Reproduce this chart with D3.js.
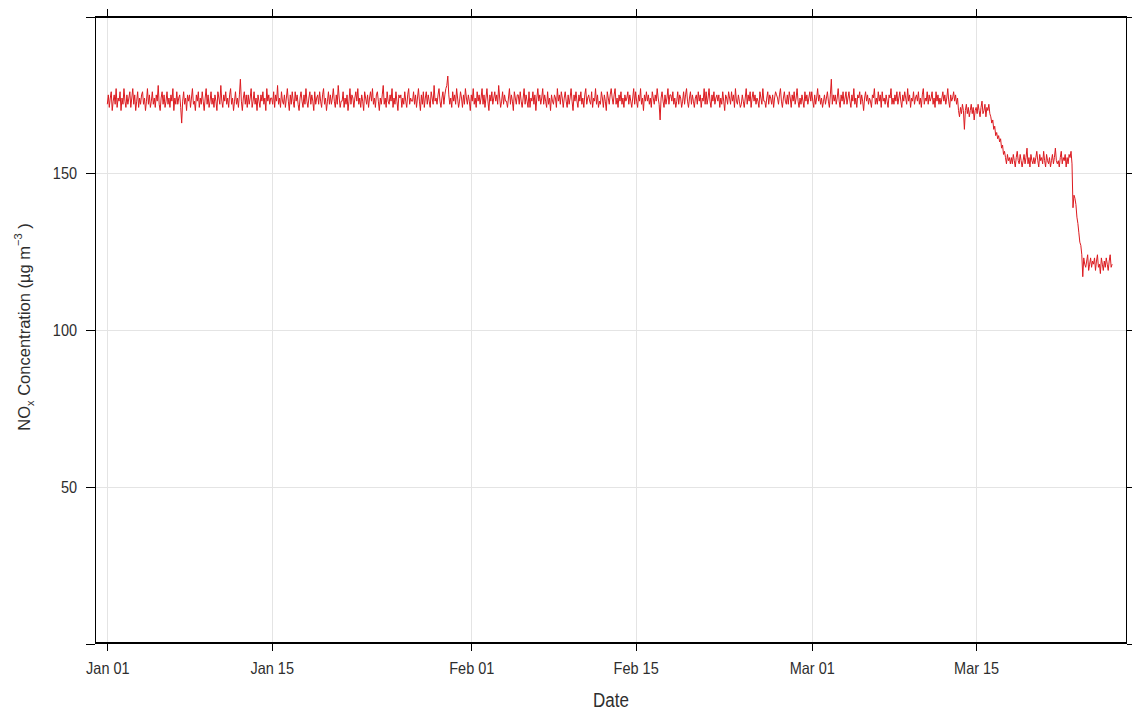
<!DOCTYPE html>
<html>
<head>
<meta charset="utf-8">
<script src="https://cdn.jsdelivr.net/npm/d3@7"></script>
<style>
  body { margin: 0; background: #fff; }
  svg { display: block; }
  text { font-family: "Liberation Sans", Arial, sans-serif; }
  .stretch { transform-box: fill-box; transform-origin: center; transform: scaleY(1.15); }
</style>
</head>
<body>
<svg id="chart" width="1132" height="711"></svg>
<script>
// NOx concentration, 2-hourly readings starting 2020-01-01 00:00 UTC (one row per day)
const seriesStart = "2020-01-01T00:00:00Z";
const stepHours = 2;

const janValues = [
  172,175,171,174,176,170,173,175,172,177,171,174,
  173,176,170,174,172,177,173,171,175,172,174,176,
  171,174,177,172,175,170,173,176,171,174,172,175,
  176,172,174,170,173,177,172,175,171,173,176,172,
  174,171,175,173,178,172,170,174,176,172,175,171,
  173,176,172,174,171,175,173,177,170,174,172,176,
  172,174,175,171,166,173,176,172,174,170,175,173,
  175,171,174,177,172,173,170,175,173,176,171,174,
  172,176,173,170,174,177,172,175,171,173,176,172,
  174,171,175,173,170,176,174,172,178,173,171,175,
  173,176,172,174,171,175,177,172,174,170,173,176,
  172,174,171,175,180,173,170,174,176,172,175,171,
  175,172,174,177,171,173,176,172,174,170,175,173,
  171,175,173,176,172,174,170,177,173,175,172,174,
  174,172,176,171,175,173,178,172,174,171,176,173,
  172,175,171,174,177,173,170,175,172,176,173,171,
  176,173,175,172,170,174,176,173,171,175,172,177,
  173,171,174,176,172,175,173,170,176,172,174,175,
  172,176,173,171,175,177,172,174,170,173,176,172,
  175,172,174,177,173,171,175,172,178,174,171,173,
  173,176,171,174,172,175,170,173,177,172,175,174,
  171,174,176,173,177,172,174,171,175,173,170,176,
  174,172,175,171,174,176,173,177,172,174,171,175,
  176,173,170,174,172,175,178,172,174,171,176,173,
  172,175,173,177,171,174,172,176,173,170,175,174,
  175,171,174,172,176,173,171,175,177,172,174,173,
  173,176,172,175,171,174,177,173,170,175,172,176,
  171,174,176,172,175,173,171,176,174,172,178,173,
  174,172,175,177,173,171,174,176,172,175,177,178,
  181,175,172,174,171,176,173,175,172,177,174,171,
  173,176,174,171,175,172,177,174,172,175,173,170
];

const febValues = [
  175,173,177,172,174,171,176,173,175,172,174,177,
  172,175,171,174,177,173,170,175,173,176,172,174,
  176,173,175,172,178,174,171,173,176,172,175,173,
  173,171,174,177,172,175,173,170,176,174,172,175,
  175,172,176,173,171,174,177,172,175,173,171,176,
  171,174,173,176,172,175,170,174,177,173,175,172,
  174,177,172,175,173,171,176,172,174,170,175,173,
  172,175,174,171,177,173,175,172,176,174,171,174,
  176,173,171,175,172,174,177,173,170,175,173,176,
  173,171,175,173,176,172,174,171,175,177,172,174,
  175,173,172,176,171,174,173,177,172,175,171,173,
  172,176,174,171,175,173,170,176,174,172,175,177,
  174,172,175,177,172,174,171,175,173,176,172,174,
  171,175,173,174,176,172,175,173,171,174,177,172,
  176,173,171,175,173,177,172,174,170,175,173,176,
  173,175,172,174,171,176,174,172,175,173,177,174,
  172,167,174,176,173,171,175,172,174,177,172,175,
  175,173,176,172,174,171,173,176,172,175,174,171,
  173,176,172,175,177,173,171,174,176,172,175,173,
  171,174,175,172,176,173,175,171,174,173,177,172,
  176,172,174,177,173,171,175,173,176,172,174,175,
  173,175,171,174,172,176,173,170,175,174,172,176,
  174,172,176,173,175,171,177,173,172,175,173,171,
  172,175,173,171,174,177,172,175,173,176,171,174,
  176,173,175,172,174,173,171,176,174,172,177,173,
  173,171,174,176,172,175,174,172,175,171,174,176,
  175,174,172,175,177,173,171,174,176,173,172,175,
  172,176,174,171,175,173,176,172,174,177,173,171,
  174,172,175,173,171,176,173,175,172,174,176,173
];

const marValues = [
  176,173,171,175,172,174,177,173,175,172,174,171,
  173,175,172,174,176,173,171,175,180,172,175,173,
  175,172,174,177,173,171,175,173,176,172,174,176,
  172,174,176,173,171,175,173,177,172,174,171,175,
  174,176,172,175,173,170,174,176,173,175,172,174,
  173,171,175,174,177,172,174,172,176,173,175,171,
  176,173,174,172,175,173,171,175,174,177,172,174,
  172,175,173,176,172,174,176,173,171,175,173,176,
  174,172,177,173,175,171,174,173,176,172,174,175,
  173,176,172,174,171,175,177,172,174,173,176,172,
  175,173,174,176,172,174,171,176,173,175,172,174,
  172,174,176,173,175,172,174,177,173,171,175,173,
  174,176,173,175,172,174,170,168,171,169,172,170,
  164,170,172,169,171,168,170,172,169,171,167,170,
  171,169,172,170,168,171,173,169,170,172,168,171,
  170,172,169,168,166,167,164,165,162,163,161,162,
  160,161,158,159,156,157,155,153,156,154,155,153,
  155,153,156,154,152,155,157,154,153,156,154,152,
  154,156,153,155,158,153,155,152,156,154,153,155,
  153,155,157,154,152,156,154,155,153,157,154,152,
  156,154,153,155,152,154,156,153,155,158,154,153,
  154,152,155,157,153,155,154,156,152,155,153,156,
  155,157,153,139,143,142,140,136,134,131,128,127,
  124,117,123,121,120,122,124,119,121,123,120,122,
  121,123,119,122,124,120,121,118,123,121,119,122,
  120,123,121,119,122,124,120,121
];

const xTickDates = ["2020-01-01", "2020-01-15", "2020-02-01", "2020-02-15", "2020-03-01", "2020-03-15"];
const xTickLabels = ["Jan 01", "Jan 15", "Feb 01", "Feb 15", "Mar 01", "Mar 15"];
const yTickValues = [50, 100, 150];
const yEdgeTicks = [0, 200];
const xDomain = ["2019-12-30T22:48:00Z", "2020-03-27T20:24:00Z"];
const yDomain = [0, 200];
const xTitle = "Date";

const lineColor = "#dc1a1f";
const gridColor = "#e4e4e4";
const textColor = "#2e2e2e";

const plot = { left: 95, right: 1127, top: 16.5, bottom: 643.5 };

const svg = d3.select("#chart");

const t0 = new Date(seriesStart).getTime();
const values = janValues.concat(febValues, marValues);
const data = values.map((v, i) => ({ date: new Date(t0 + i * stepHours * 3600e3), value: v }));

const x = d3.scaleUtc()
  .domain(xDomain.map(d => new Date(d)))
  .range([plot.left, plot.right]);
const y = d3.scaleLinear()
  .domain(yDomain)
  .range([plot.bottom, plot.top]);

const tickDates = xTickDates.map(d => new Date(d + "T00:00:00Z"));
const labelFor = d => xTickLabels[tickDates.findIndex(t => +t === +d)];

// grid
const grid = svg.append("g").attr("shape-rendering", "crispEdges");
grid.selectAll("line.gx").data(tickDates).join("line")
  .attr("class", "gx")
  .attr("x1", d => Math.round(x(d)) + 0.5).attr("x2", d => Math.round(x(d)) + 0.5)
  .attr("y1", plot.top).attr("y2", plot.bottom)
  .attr("stroke", gridColor);
grid.selectAll("line.gy").data(yTickValues).join("line")
  .attr("class", "gy")
  .attr("x1", plot.left).attr("x2", plot.right)
  .attr("y1", d => Math.round(y(d)) + 0.5).attr("y2", d => Math.round(y(d)) + 0.5)
  .attr("stroke", gridColor);

// series
const line = d3.line().x(d => x(d.date)).y(d => y(d.value));
svg.append("path")
  .datum(data)
  .attr("d", line)
  .attr("fill", "none")
  .attr("stroke", lineColor)
  .attr("stroke-width", 1)
  .attr("stroke-linejoin", "round");

// axes on all four sides
function styleAxis(g) {
  g.select(".domain").remove();
  g.selectAll(".tick line").attr("stroke", "#000").attr("shape-rendering", "crispEdges");
  g.selectAll(".tick text").attr("fill", textColor).attr("font-size", 14.5).attr("class", "stretch");
}

svg.append("g")
  .attr("transform", `translate(0,${plot.bottom - 0.5})`)
  .call(d3.axisBottom(x).tickValues(tickDates).tickFormat(labelFor).tickSize(8).tickPadding(12))
  .call(styleAxis);

svg.append("g")
  .attr("transform", `translate(0,${plot.top + 0.5})`)
  .call(d3.axisTop(x).tickValues(tickDates).tickFormat("").tickSize(8))
  .call(styleAxis);

svg.append("g")
  .attr("transform", `translate(${plot.left},0)`)
  .call(d3.axisLeft(y).tickValues(yEdgeTicks.concat(yTickValues))
    .tickFormat(d => yTickValues.includes(d) ? d : "").tickSize(9).tickPadding(9))
  .call(styleAxis);

svg.append("g")
  .attr("transform", `translate(${plot.right},0)`)
  .call(d3.axisRight(y).tickValues(yEdgeTicks.concat(yTickValues)).tickFormat("").tickSize(9))
  .call(styleAxis);

// panel border
svg.append("rect")
  .attr("x", plot.left + 0.5).attr("y", plot.top + 0.5)
  .attr("width", plot.right - plot.left - 1).attr("height", plot.bottom - plot.top - 1)
  .attr("fill", "none").attr("stroke", "#000").attr("stroke-width", 1.2)
  .attr("shape-rendering", "crispEdges");

// axis titles
svg.append("text")
  .attr("class", "stretch")
  .attr("x", (plot.left + plot.right) / 2)
  .attr("y", 706)
  .attr("text-anchor", "middle")
  .attr("font-size", 17)
  .attr("fill", textColor)
  .text(xTitle);

const yTitle = svg.append("text")
  .attr("transform", `translate(30,${(plot.top + plot.bottom) / 2 - 3}) rotate(-90)`)
  .attr("text-anchor", "middle")
  .attr("font-size", 16.5)
  .attr("fill", textColor);
yTitle.append("tspan").text("NO");
yTitle.append("tspan").attr("font-size", 11).attr("dy", 4).text("x");
yTitle.append("tspan").attr("dy", -4).text(" Concentration (µg m");
yTitle.append("tspan").attr("font-size", 11).attr("dy", -8).text("−3");
yTitle.append("tspan").attr("dy", 8).text(" )");
</script>
</body>
</html>
